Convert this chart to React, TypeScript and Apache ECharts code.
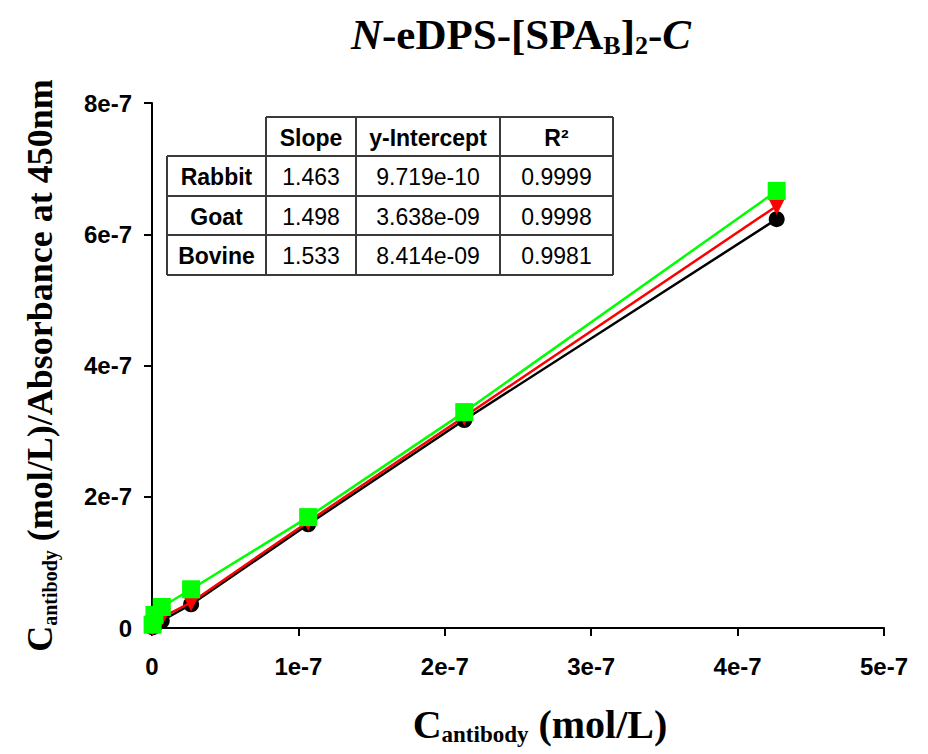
import React, { useEffect, useRef } from 'react';
import * as echarts from 'echarts';

// Antibody concentration (mol/L)
const concentrations = [4.2e-10, 1.67e-9, 6.67e-9, 2.67e-8, 1.067e-7, 2.133e-7, 4.267e-7];
// C / Absorbance at 450 nm (mol/L)
const rabbitValues = [1.0e-9, 3.5e-9, 1.1e-8, 3.6e-8, 1.58e-7, 3.17e-7, 6.23e-7];
const goatValues = [1.0e-9, 6.0e-9, 1.6e-8, 3.9e-8, 1.62e-7, 3.22e-7, 6.43e-7];
const bovineValues = [5.0e-9, 2.0e-8, 3.2e-8, 5.9e-8, 1.69e-7, 3.29e-7, 6.66e-7];

const tableHeaders = ['Slope', 'y-Intercept', 'R²'];
const tableSpecies = ['Rabbit', 'Goat', 'Bovine'];
const tableSlopes = ['1.463', '1.498', '1.533'];
const tableIntercepts = ['9.719e-10', '3.638e-09', '8.414e-09'];
const tableR2 = ['0.9999', '0.9998', '0.9981'];

const SANS = '"Liberation Sans", Arial, sans-serif';
const SERIF = '"Liberation Serif", "Times New Roman", serif';

function buildTable() {
  const colX = [167, 266, 356, 500, 613];
  const rowY = [117, 156, 196, 235, 275];
  const stroke = { stroke: '#3a3a3a', lineWidth: 2 };
  const els: any[] = [];
  const line = (x1: number, y1: number, x2: number, y2: number) =>
    els.push({ type: 'line', shape: { x1, y1, x2, y2 }, style: stroke, silent: true });
  line(colX[1], rowY[0], colX[4], rowY[0]);
  for (let r = 1; r < rowY.length; r++) line(colX[0], rowY[r], colX[4], rowY[r]);
  line(colX[0], rowY[1], colX[0], rowY[4]);
  for (let c = 1; c < colX.length; c++) line(colX[c], rowY[0], colX[c], rowY[4]);
  const text = (t: string, c: number, r: number, bold: boolean) =>
    els.push({
      type: 'text',
      x: (colX[c] + colX[c + 1]) / 2,
      y: (rowY[r] + rowY[r + 1]) / 2 + 1,
      silent: true,
      style: {
        text: t,
        textAlign: 'center',
        textVerticalAlign: 'middle',
        font: `${bold ? 'bold ' : ''}23px ${SANS}`,
        fill: '#000',
      },
    });
  tableHeaders.forEach((h, i) => text(h, i + 1, 0, true));
  tableSpecies.forEach((s, i) => {
    text(s, 0, i + 1, true);
    text(tableSlopes[i], 1, i + 1, false);
    text(tableIntercepts[i], 2, i + 1, false);
    text(tableR2[i], 3, i + 1, false);
  });
  return els;
}

export default function App() {
  const ref = useRef<HTMLDivElement>(null);
  useEffect(() => {
    document.body.style.margin = '0';
    const chart = echarts.init(ref.current as HTMLDivElement, null, { renderer: 'svg' });
    const mk = (arr: number[]) => concentrations.map((x, i) => [x, arr[i]]);
    const fmt = (v: number) => (v === 0 ? '0' : `${Math.round(v / 1e-7)}e-7`);
    const axisCommon = {
      axisLine: { show: true, lineStyle: { color: '#000', width: 2 } },
      axisTick: { show: true, inside: false, length: 8, lineStyle: { color: '#000', width: 2 } },
      splitLine: { show: false },
      axisLabel: {
        formatter: fmt,
        color: '#000',
        fontFamily: SANS,
        fontWeight: 'bold',
        fontSize: 24,
      },
    };
    chart.setOption({
      animation: false,
      backgroundColor: '#fff',
      title: {
        text: '{i|N}{n|-eDPS-[SPA}{s|B}{n|]}{s|2}{n|-}{i|C}',
        left: 346,
        top: 5,
        textStyle: {
          rich: {
            n: { fontFamily: SERIF, fontWeight: 'bold', fontSize: 43, color: '#000', lineHeight: 48 },
            i: { fontFamily: SERIF, fontWeight: 'bold', fontStyle: 'italic', fontSize: 43, color: '#000', lineHeight: 48 },
            s: { fontFamily: SERIF, fontWeight: 'bold', fontSize: 26, color: '#000', lineHeight: 16, verticalAlign: 'bottom' },
          },
        },
      },
      grid: { left: 152, right: 44, top: 103, bottom: 126, containLabel: false },
      xAxis: {
        type: 'value',
        min: 0,
        max: 5e-7,
        interval: 1e-7,
        ...axisCommon,
        axisLabel: { ...axisCommon.axisLabel, margin: 26 },
        name: '{n|C}{s|antibody}{n| (mol/L)}',
        nameLocation: 'middle',
        nameGap: 74,
        nameTextStyle: {
          padding: [0, 0, 0, 44],
          rich: {
            n: { fontFamily: SERIF, fontWeight: 'bold', fontSize: 40, color: '#000', lineHeight: 44 },
            s: { fontFamily: SERIF, fontWeight: 'bold', fontSize: 23, color: '#000', lineHeight: 14, verticalAlign: 'bottom' },
          },
        },
      },
      yAxis: {
        type: 'value',
        min: 0,
        max: 8e-7,
        interval: 2e-7,
        ...axisCommon,
        axisLabel: { ...axisCommon.axisLabel, margin: 20 },
        name: '{n|C}{s|antibody}{n| (mol/L)/Absorbance at 450nm}',
        nameLocation: 'middle',
        nameGap: 92,
        nameTextStyle: {
          rich: {
            n: { fontFamily: SERIF, fontWeight: 'bold', fontSize: 36, color: '#000', lineHeight: 40 },
            s: { fontFamily: SERIF, fontWeight: 'bold', fontSize: 20, color: '#000', lineHeight: 14, verticalAlign: 'bottom' },
          },
        },
      },
      series: [
        {
          name: 'Rabbit',
          type: 'line',
          data: mk(rabbitValues),
          symbol: 'circle',
          symbolSize: 16,
          lineStyle: { color: '#000', width: 2.5 },
          itemStyle: { color: '#000' },
          z: 2,
        },
        {
          name: 'Goat',
          type: 'line',
          data: mk(goatValues),
          symbol: 'triangle',
          symbolRotate: 180,
          symbolSize: 18,
          lineStyle: { color: '#ff0000', width: 2.5 },
          itemStyle: { color: '#ff0000' },
          z: 3,
        },
        {
          name: 'Bovine',
          type: 'line',
          data: mk(bovineValues),
          symbol: 'rect',
          symbolSize: 18,
          lineStyle: { color: '#00ff00', width: 2.5 },
          itemStyle: { color: '#00ff00' },
          z: 4,
        },
      ],
      graphic: buildTable(),
    });
    return () => chart.dispose();
  }, []);
  return <div ref={ref} style={{ width: 928, height: 754 }} />;
}
